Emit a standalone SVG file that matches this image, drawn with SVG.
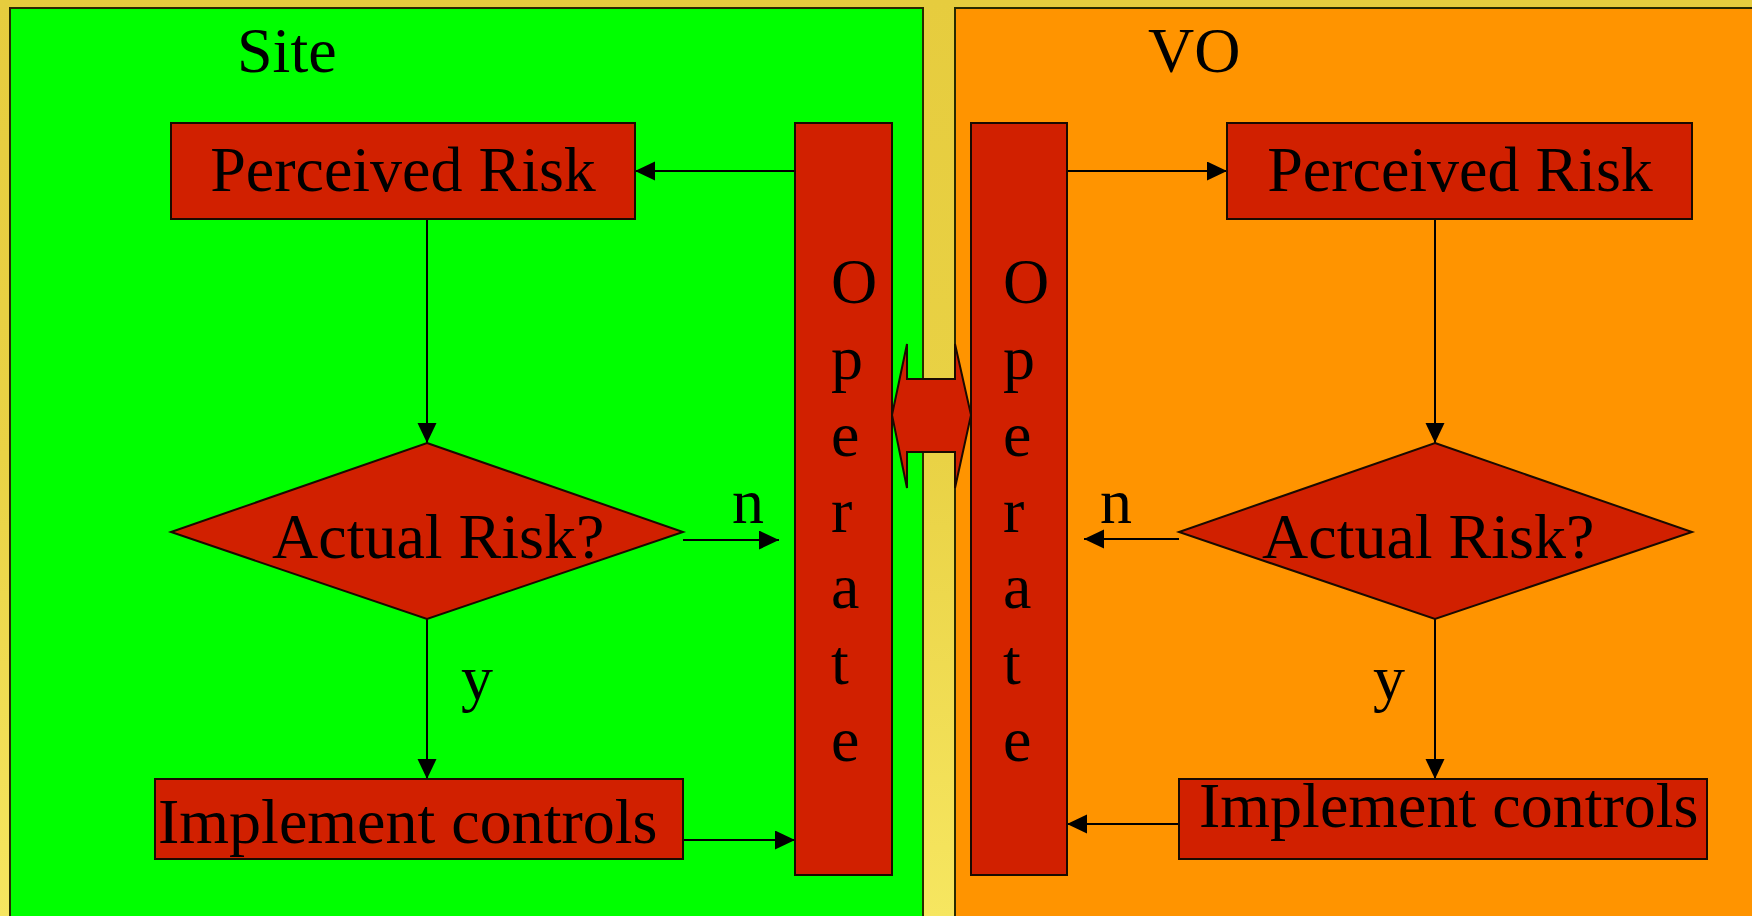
<svg xmlns="http://www.w3.org/2000/svg" width="1752" height="916" viewBox="0 0 1752 916">
<style>
.box{fill:#D12000;stroke:#1a0a00;stroke-width:2}
.t{font-family:"Liberation Serif","Times New Roman",serif;font-size:64px;fill:#000}
.c{stroke:#000;stroke-width:2;fill:none;marker-end:url(#ah)}
</style>
<defs>
<marker id="ah" markerUnits="userSpaceOnUse" markerWidth="20" markerHeight="20" refX="20" refY="9.5" orient="auto">
<path d="M0,0 L20,9.5 L0,19 Z" fill="#000"/>
</marker>
<linearGradient id="gold" x1="0" y1="0" x2="0" y2="1">
<stop offset="0" stop-color="#E6CC3E"/>
<stop offset="0.5" stop-color="#E9D245"/>
<stop offset="1" stop-color="#F6E660"/>
</linearGradient>
</defs>
<rect x="0" y="0" width="1752" height="916" fill="url(#gold)"/>
<g id="panel-site">
<rect x="10" y="8" width="913" height="930" fill="#00FF00" stroke="#2a2a00" stroke-width="2"/>
<text class="t" x="237" y="72">Site</text>
</g>
<g id="panel-vo">
<rect x="955" y="8" width="820" height="930" fill="#FF9400" stroke="#2a2a00" stroke-width="2"/>
<text class="t" x="1148" y="72">VO</text>
</g>
<g id="connectors">
<line class="c" x1="795" y1="171" x2="635" y2="171"/>
<line class="c" x1="427" y1="219" x2="427" y2="443"/>
<line class="c" x1="683" y1="540" x2="779" y2="540"/>
<line class="c" x1="427" y1="619" x2="427" y2="779"/>
<line class="c" x1="683" y1="840" x2="795" y2="840"/>
<line class="c" x1="1067" y1="171" x2="1227" y2="171"/>
<line class="c" x1="1435" y1="219" x2="1435" y2="443"/>
<line class="c" x1="1179" y1="539" x2="1084" y2="539"/>
<line class="c" x1="1435" y1="619" x2="1435" y2="779"/>
<line class="c" x1="1179" y1="824" x2="1067" y2="824"/>
</g>
<g id="site-perceived">
<rect class="box" x="171" y="123" width="464" height="96"/>
<text class="t" x="403" y="191" text-anchor="middle">Perceived Risk</text>
</g>
<g id="site-actual">
<polygon class="box" points="427,443 683,532 427,619 171,532"/>
<text class="t" x="272" y="558">Actual Risk?</text>
</g>
<g id="site-implement">
<rect class="box" x="155" y="779" width="528" height="80"/>
<text class="t" x="158" y="843">Implement controls</text>
</g>
<g id="site-operate">
<rect class="box" x="795" y="123" width="97" height="752"/>
<text class="t" x="831" y="303">O</text>
<text class="t" x="831" y="379">p</text>
<text class="t" x="831" y="456">e</text>
<text class="t" x="831" y="532">r</text>
<text class="t" x="831" y="608">a</text>
<text class="t" x="831" y="684">t</text>
<text class="t" x="831" y="761">e</text>
</g>
<g id="vo-operate">
<rect class="box" x="971" y="123" width="96" height="752"/>
<text class="t" x="1003" y="303">O</text>
<text class="t" x="1003" y="379">p</text>
<text class="t" x="1003" y="456">e</text>
<text class="t" x="1003" y="532">r</text>
<text class="t" x="1003" y="608">a</text>
<text class="t" x="1003" y="684">t</text>
<text class="t" x="1003" y="761">e</text>
</g>
<g id="exchange">
<polygon class="box" points="892,415 907,344 907,379 955,379 955,344 971,415 955,488 955,452 907,452 907,488"/>
</g>
<g id="vo-perceived">
<rect class="box" x="1227" y="123" width="465" height="96"/>
<text class="t" x="1460" y="191" text-anchor="middle">Perceived Risk</text>
</g>
<g id="vo-actual">
<polygon class="box" points="1435,443 1692,532 1435,619 1179,532"/>
<text class="t" x="1262" y="558">Actual Risk?</text>
</g>
<g id="vo-implement">
<rect class="box" x="1179" y="779" width="528" height="80"/>
<text class="t" x="1199" y="827">Implement controls</text>
</g>
<g id="labels">
<text class="t" x="732" y="523">n</text>
<text class="t" x="461" y="699">y</text>
<text class="t" x="1100" y="523">n</text>
<text class="t" x="1373" y="699">y</text>
</g>
</svg>
